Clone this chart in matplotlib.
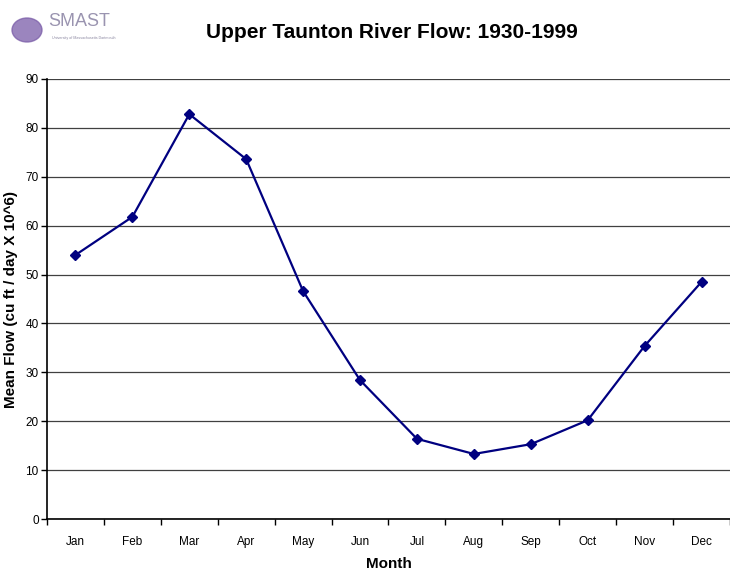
import matplotlib
matplotlib.use("Agg")
import matplotlib.pyplot as plt
from matplotlib.patches import Ellipse

plt.rcParams['font.family'] = ['Liberation Sans', 'DejaVu Sans']

months = ["Jan", "Feb", "Mar", "Apr", "May", "Jun", "Jul", "Aug", "Sep", "Oct", "Nov", "Dec"]
flow = [54.0, 61.8, 82.8, 73.6, 46.6, 28.4, 16.4, 13.3, 15.3, 20.2, 35.4, 48.5]
yticks = list(range(0, 100, 10))

fig = plt.figure(figsize=(7.3, 5.73), dpi=100)
ax = fig.add_axes([47 / 730, 1 - 519 / 573, 1 - 47 / 730, (519 - 79) / 573])

x = list(range(len(months)))
ax.plot(x, flow, "-", color="#000080", lw=1.6, marker="D", ms=5, zorder=3)

ax.set_xlim(-0.5, len(months) - 0.5)
ax.set_ylim(0, 90)
ax.set_yticks(yticks)
ax.set_xticks(x)
ax.set_xticklabels(months, fontsize=8.5)
ax.set_xticks([i + 0.5 for i in range(-1, len(months))], minor=True)
ax.tick_params(axis="x", which="major", length=0, pad=12)
ax.tick_params(axis="x", which="minor", length=4, width=1, direction="out", color="black")
ax.tick_params(axis="y", length=4, width=1, direction="out", labelsize=8.5, pad=2)
ax.yaxis.grid(True, color="#404040", lw=0.9)
ax.set_axisbelow(True)
for s in ("top", "right"):
    ax.spines[s].set_visible(False)
ax.spines["left"].set_linewidth(1.2)
ax.spines["bottom"].set_linewidth(1.2)

ax.set_xlabel("Month", fontsize=11, fontweight="bold", labelpad=7)
ax.set_ylabel("Mean Flow (cu ft / day X 10^6)", fontsize=11, fontweight="bold", labelpad=5)

fig.text(392 / 730, 1 - 33 / 573, "Upper Taunton River Flow: 1930-1999",
         ha="center", va="center", fontsize=15, fontweight="bold")

# logo placeholder
fig.patches.append(Ellipse((27 / 730, 1 - 30 / 573), 30 / 730, 24 / 573,
                           transform=fig.transFigure, color="#7a5ca8", alpha=0.75))
fig.text(48 / 730, 1 - 22 / 573, "SMAST", fontsize=13, color="#9a94b0", va="center", ha="left")
fig.text(52 / 730, 1 - 38 / 573, "University of Massachusetts Dartmouth", fontsize=2.6,
         color="#8a86a0", va="center", ha="left")

fig.savefig("out.png", dpi=100)
